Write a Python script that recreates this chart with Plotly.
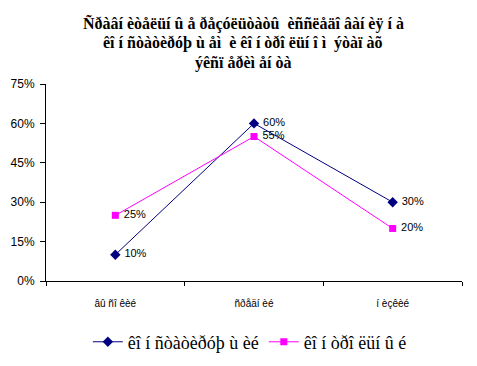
import plotly.graph_objects as go

categories = ["âû ñî êèé", "ñðåäí èé", "í èçêèé"]
series_names = ["êî í ñòàòèðóþ ù èé", "êî í òðî ëüí û é"]
constat_values = [0.10, 0.60, 0.30]
control_values = [0.25, 0.55, 0.20]
y_ticks = [0, 0.15, 0.30, 0.45, 0.60, 0.75]
title_lines = [
    "Ñðàâí èòåëüí û å ðåçóëüòàòû  èññëåäî âàí èÿ í à",
    "êî í ñòàòèðóþ ù åì  è êî í òðî ëüí î ì  ýòàï àõ",
    "ýêñï åðèì åí òà",
]

fig = go.Figure()
fig.add_trace(go.Scatter(
    x=categories, y=constat_values, name=series_names[0],
    mode="lines+markers+text",
    line=dict(color="#000080", width=1),
    marker=dict(symbol="diamond", size=8, color="#000080"),
    text=[f" {v:.0%}" for v in constat_values],
    textposition="middle right",
    textfont=dict(family="Liberation Sans", size=11, color="black"),
))
fig.add_trace(go.Scatter(
    x=categories, y=control_values, name=series_names[1],
    mode="lines+markers+text",
    line=dict(color="#FF00FF", width=1),
    marker=dict(symbol="square", size=7, color="#FF00FF"),
    text=[f" {v:.0%}" for v in control_values],
    textposition="middle right",
    textfont=dict(family="Liberation Sans", size=11, color="black"),
))

annotations = []
for i, line in enumerate(title_lines):
    annotations.append(dict(
        text=line, xref="paper", yref="paper",
        x=(243 - 46) / 416, y=1 + (84 - (23 + 20 * i)) / 197,
        xanchor="center", yanchor="middle", showarrow=False,
        font=dict(family="Liberation Serif", size=16, color="black", weight="bold"),
    ))

fig.update_layout(
    width=477, height=366,
    margin=dict(l=46, r=15, t=84, b=85, autoexpand=False),
    paper_bgcolor="white", plot_bgcolor="white",
    showlegend=True,
    legend=dict(orientation="h", x=0.49, xanchor="center", y=-0.31, yanchor="middle",
                font=dict(family="Liberation Serif", size=18, color="black"),
                itemwidth=30),
    annotations=annotations,
    xaxis=dict(
        type="category", range=[-0.5, 2.5], automargin=False,
        showline=True, linecolor="black", linewidth=1,
        ticks="outside", tickson="boundaries", ticklen=4, tickcolor="black",
        showgrid=False, zeroline=False,
        tickfont=dict(family="Liberation Sans", size=10, color="black"),
        ticklabelstandoff=13,
    ),
    yaxis=dict(
        range=[0, 0.75], tickvals=y_ticks, tickformat=".0%", automargin=False,
        showline=True, linecolor="black", linewidth=1,
        ticks="outside", ticklen=5, tickcolor="black",
        showgrid=False, zeroline=False,
        tickfont=dict(family="Liberation Sans", size=12, color="black"),
        ticklabelstandoff=3,
    ),
)

fig.write_html("out.html", config={"displayModeBar": False},
               post_script="document.body.style.margin='0';")
